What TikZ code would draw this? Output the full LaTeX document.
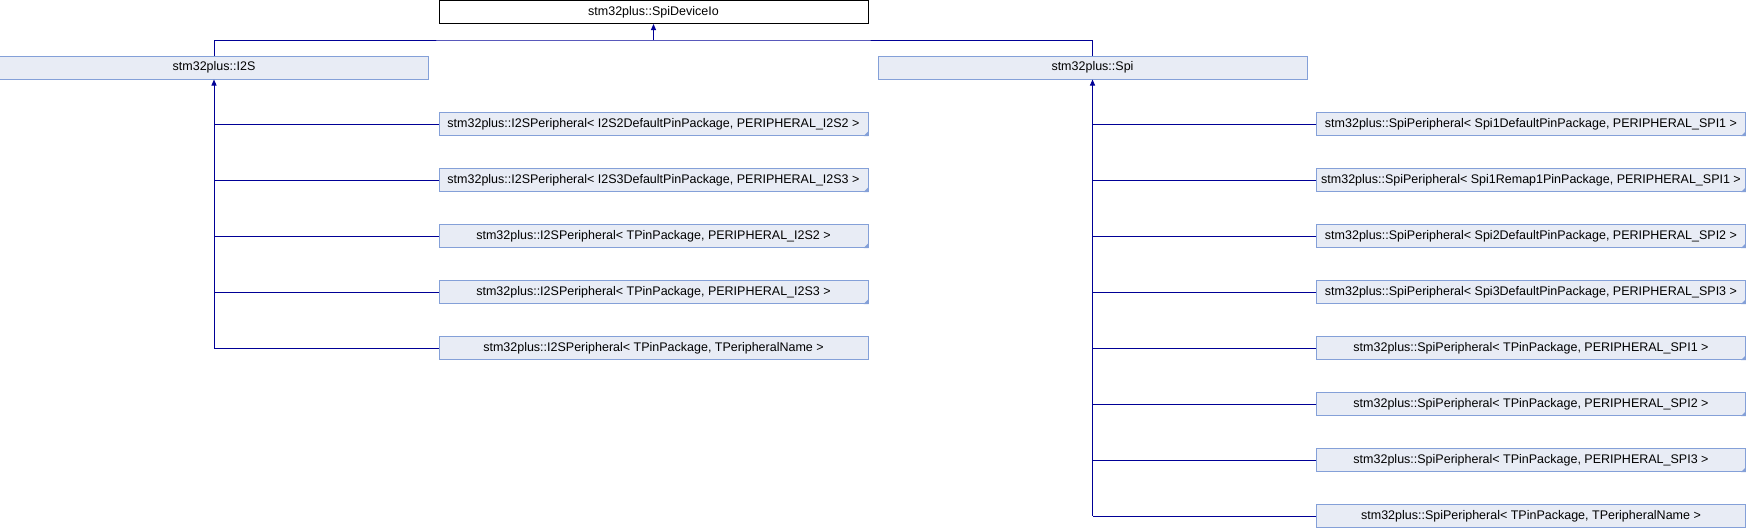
\documentclass[tikz,border=0pt]{standalone}
\usepackage{fontspec}
\setmainfont{Liberation Sans}
\usetikzlibrary{positioning,arrows.meta}
\definecolor{boxfill}{RGB}{232,236,245}
\definecolor{boxline}{RGB}{132,160,216}
\definecolor{linkblue}{RGB}{0,0,150}
\tikzset{
      classbox/.style = {draw=boxline, fill=boxfill, line width=1pt, minimum width=429pt, minimum height=23pt, inner sep=0pt, font=\fontsize{12.5}{14}\selectfont},
      rootbox/.style = {classbox, draw=black, fill=white},
      inherit/.style = {linkblue, line width=1pt},
      inheritarrow/.style = {inherit, -{Triangle[width=5pt,length=6pt]}},
    }

\begin{document}
\begin{tikzpicture}[x=1pt,y=1pt,node distance=32pt]
          \useasboundingbox (0,0) rectangle (1746,-528);
          \node[rootbox] (io) at (653.5,-12) {stm32plus::SpiDeviceIo};
          \node[classbox] (i2s) at (214,-67.5) {stm32plus::I2S};
          \node[classbox] (spi) at (1092.5,-67.5) {stm32plus::Spi};

          % I2S peripherals
          \node[classbox] (i2s1) at (653.5,-124) {stm32plus::I2SPeripheral< I2S2DefaultPinPackage, PERIPHERAL\_I2S2 >};
          \node[classbox, below=of i2s1] (i2s2) {stm32plus::I2SPeripheral< I2S3DefaultPinPackage, PERIPHERAL\_I2S3 >};
          \node[classbox, below=of i2s2] (i2s3) {stm32plus::I2SPeripheral< TPinPackage, PERIPHERAL\_I2S2 >};
          \node[classbox, below=of i2s3] (i2s4) {stm32plus::I2SPeripheral< TPinPackage, PERIPHERAL\_I2S3 >};
          \node[classbox, below=of i2s4] (i2s5) {stm32plus::I2SPeripheral< TPinPackage, TPeripheralName >};

          % SPI peripherals
          \node[classbox] (spi1) at (1531,-124) {stm32plus::SpiPeripheral< Spi1DefaultPinPackage, PERIPHERAL\_SPI1 >};
          \node[classbox, below=of spi1] (spi2) {stm32plus::SpiPeripheral< Spi1Remap1PinPackage, PERIPHERAL\_SPI1 >};
          \node[classbox, below=of spi2] (spi3) {stm32plus::SpiPeripheral< Spi2DefaultPinPackage, PERIPHERAL\_SPI2 >};
          \node[classbox, below=of spi3] (spi4) {stm32plus::SpiPeripheral< Spi3DefaultPinPackage, PERIPHERAL\_SPI3 >};
          \node[classbox, below=of spi4] (spi5) {stm32plus::SpiPeripheral< TPinPackage, PERIPHERAL\_SPI1 >};
          \node[classbox, below=of spi5] (spi6) {stm32plus::SpiPeripheral< TPinPackage, PERIPHERAL\_SPI2 >};
          \node[classbox, below=of spi6] (spi7) {stm32plus::SpiPeripheral< TPinPackage, PERIPHERAL\_SPI3 >};
          \node[classbox, below=of spi7] (spi8) {stm32plus::SpiPeripheral< TPinPackage, TPeripheralName >};

          % template instance corners
          \foreach \n in {i2s1,i2s2,i2s3,i2s4,spi1,spi2,spi3,spi4,spi5,spi6,spi7}
            \fill[boxline] (\n.south east) -- ++(-5,0) -- ++(5,5) -- cycle;

          \coordinate[below=16pt of io] (bus);
          \draw[inherit] (i2s.north) |- (bus) -| (spi.north);
          \draw[inheritarrow] (bus) -- (io.south);

          \foreach \n in {i2s1,i2s2,i2s3,i2s4,i2s5}
            \draw[inherit] (\n.west) -- (\n.west -| i2s.south);
          \draw[inheritarrow] (i2s5.west -| i2s.south) -- (i2s.south);

          \foreach \n in {spi1,spi2,spi3,spi4,spi5,spi6,spi7,spi8}
            \draw[inherit] (\n.west) -- (\n.west -| spi.south);
          \draw[inheritarrow] (spi8.west -| spi.south) -- (spi.south);
\end{tikzpicture}
\end{document}
